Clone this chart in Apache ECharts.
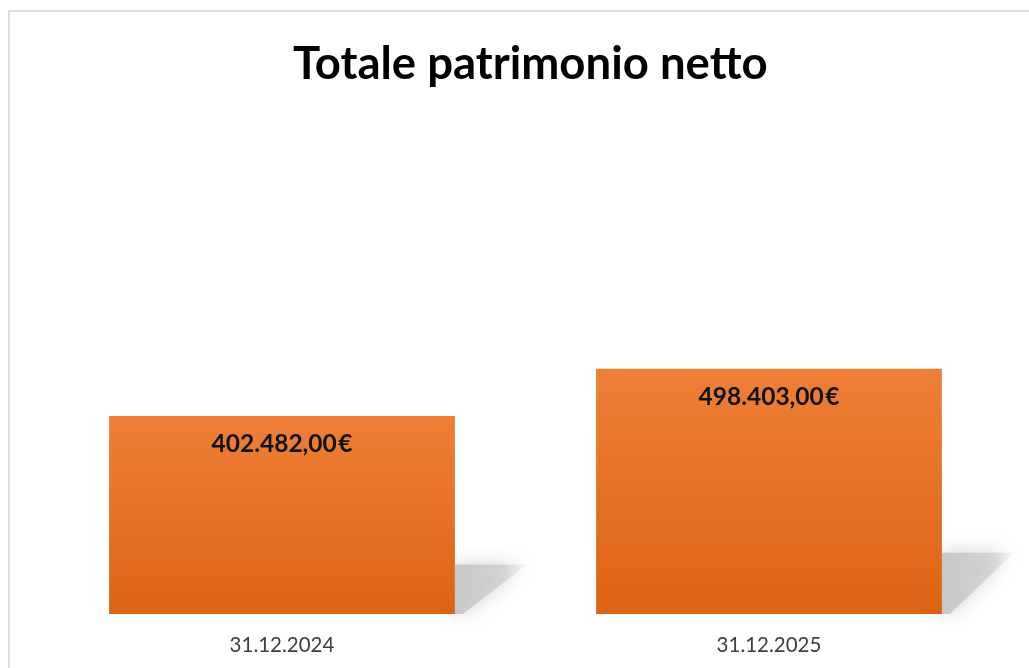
<!DOCTYPE html>
<html>
<head>
<meta charset="utf-8">
<script src="https://cdn.jsdelivr.net/npm/echarts@6/dist/echarts.min.js"></script>
<style>
    html, body { margin: 0; padding: 0; background: #fff; }
    #chart { width: 1029px; height: 668px; }
</style>
</head>
<body>
<div id="chart"></div>
<script>
    // dati
    var categories = ['31.12.2024', '31.12.2025'];
    var values = [402482, 498403];

    // 402482 -> "402.482,00 €"
    function formatEuro(v) {
        var parts = v.toFixed(2).split('.');
        var intPart = parts[0].replace(/\B(?=(\d{3})+(?!\d))/g, '.');
        return intPart + ',' + parts[1] + '\u200A€';
    }

    var shadowData = values.map(function (v, i) { return [i, v]; });

    // ombra obliqua a destra di ogni barra
    function renderShadow(params, api) {
        var top = api.coord([api.value(0), api.value(1)]);
        var base = api.coord([api.value(0), 0]);
        var band = api.size([1, 0])[0];
        var right = top[0] + band * 0.71 / 2;
        var h = (base[1] - top[1]) * 0.25;
        return {
            type: 'polygon',
            shape: {
                points: [[right, base[1]], [right, base[1] - h], [right + 72, base[1] - h], [right + 8, base[1]]]
            },
            style: {
                fill: new echarts.graphic.LinearGradient(0, 0, 1, 0, [
                    {offset: 0, color: '#c8c8c8'},
                    {offset: 0.7, color: 'rgba(205,205,205,0.75)'},
                    {offset: 1, color: 'rgba(225,225,225,0.25)'}
                ]),
                shadowBlur: 20,
                shadowColor: 'rgba(200,200,200,0.9)'
            }
        };
    }

    var chart = echarts.init(document.getElementById('chart'));
    chart.setOption({
        backgroundColor: '#fff',
        animation: false,
        graphic: [{
            type: 'rect',
            shape: {x: 9, y: 11, width: 1100, height: 700},
            style: {fill: 'none', stroke: '#dcdcdc', lineWidth: 2},
            z: -1
        }],
        title: {
            text: 'Totale patrimonio netto',
            left: 288,
            top: 36,
            textStyle: {
                fontFamily: 'Lato',
                fontWeight: 'bold',
                fontSize: 45.5,
                color: '#000'
            }
        },
        grid: {left: 38.5, right: 16.5, top: 122, bottom: 54},
        xAxis: {
            type: 'category',
            data: categories,
            axisLine: {show: false},
            axisTick: {show: false},
            axisLabel: {
                color: '#404040',
                fontFamily: 'Lato',
                fontSize: 20.5,
                margin: 21
            }
        },
        yAxis: {
            type: 'value',
            min: 0,
            max: 1000000,
            show: false,
            splitLine: {show: false}
        },
        series: [
            {
                type: 'custom',
                renderItem: renderShadow,
                data: shadowData,
                z: 1,
                silent: true
            },
            {
                type: 'bar',
                data: values,
                barCategoryGap: '29%',
                z: 2,
                itemStyle: {
                    color: new echarts.graphic.LinearGradient(0, 0, 0, 1, [
                        {offset: 0, color: '#ee7f37'},
                        {offset: 1, color: '#dc6314'}
                    ])
                },
                label: {
                    show: true,
                    position: 'insideTop',
                    distance: 16,
                    formatter: function (p) { return formatEuro(p.value); },
                    fontFamily: 'Lato',
                    fontWeight: 'bold',
                    fontSize: 24.5,
                    color: '#111'
                }
            }
        ]
    });
</script>
</body>
</html>
